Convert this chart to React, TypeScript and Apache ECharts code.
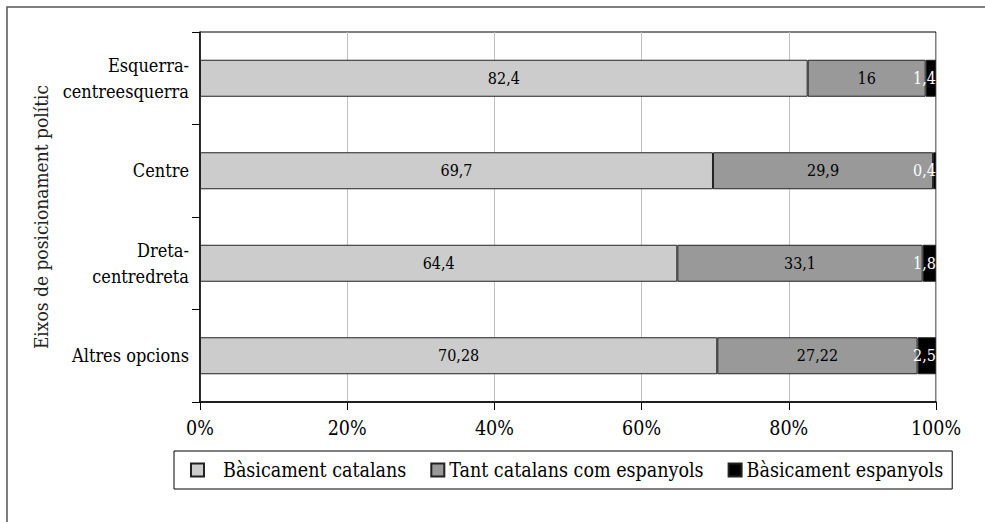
import React, { useEffect, useRef } from "react";
import * as echarts from "echarts";

const categories = ["Esquerra-\ncentreesquerra", "Centre", "Dreta-\ncentredreta", "Altres opcions"];
const seriesNames = ["Bàsicament catalans", "Tant catalans com espanyols", "Bàsicament espanyols"];
const basicamentCatalans = [82.4, 69.7, 64.4, 70.28];
const tantCatalansComEspanyols = [16, 29.9, 33.1, 27.22];
const basicamentEspanyols = [1.4, 0.4, 1.8, 2.5];
const xTicks = [0, 20, 40, 60, 80, 100];
const yAxisTitle = "Eixos de posicionament polític";

const FONT = "DejaVu Serif Condensed";

export default function App() {
  const ref = useRef<HTMLDivElement>(null);
  useEffect(() => {
    if (!ref.current) return;
    const chart = echarts.init(ref.current, null, { renderer: "svg" });
    const raw = [basicamentCatalans, tantCatalansComEspanyols, basicamentEspanyols];
    const totals = categories.map((_, i) => raw.reduce((s, arr) => s + arr[i], 0));
    const colors = ["#cccccc", "#999999", "#000000"];
    const fmt = (v: number) => String(v).replace(".", ",");
    const series = raw.map((arr, si) => ({
      name: seriesNames[si],
      type: "bar",
      stack: "total",
      barWidth: 37,
      itemStyle: { color: colors[si], borderColor: "#222", borderWidth: 1 },
      label: {
        show: true,
        position: si === 2 ? "insideRight" : "inside",
        distance: 0,
        color: si === 2 ? "#ffffff" : "#000000",
        fontFamily: FONT,
        fontSize: 16,
        formatter: (p: any) => fmt(arr[p.dataIndex]),
      },
      emphasis: { disabled: true },
      data: arr.map((v, i) => (v / totals[i]) * 100),
    }));
    chart.setOption({
      animation: false,
      textStyle: { fontFamily: FONT },
      graphic: [
        {
          type: "rect",
          shape: { x: 7, y: 7, width: 1100, height: 700 },
          style: { fill: "none", stroke: "#555", lineWidth: 1.5 },
          silent: true,
        },
      ],
      grid: {
        left: 200,
        top: 32,
        right: 49,
        bottom: 120,
        show: true,
        borderColor: "#000",
        borderWidth: 1,
        containLabel: false,
        outerBoundsMode: "none",
      },
      legend: {
        left: 174,
        top: 451,
        orient: "horizontal",
        padding: [9, 9, 9, 16],
        borderColor: "#000",
        borderWidth: 1,
        itemWidth: 13,
        itemHeight: 13,
        itemGap: 24,
        icon: "rect",
        textStyle: { fontFamily: FONT, fontSize: 19.5, color: "#000" },
        data: [
          { name: seriesNames[0], textStyle: { fontFamily: FONT, fontSize: 19.5, color: "#000", padding: [0, 0, 0, 14] } },
          { name: seriesNames[1] },
          { name: seriesNames[2] },
        ],
        selectedMode: false,
      },
      xAxis: {
        type: "value",
        min: 0,
        max: 100,
        interval: 20,
        axisLine: { show: true, lineStyle: { color: "#000", width: 1.5 } },
        axisTick: { show: true, length: 8, lineStyle: { color: "#000", width: 1 } },
        axisLabel: {
          margin: 16,
          fontFamily: FONT,
          fontSize: 19.5,
          color: "#000",
          formatter: (v: number) => (xTicks.includes(v) ? `${v}%` : ""),
        },
        splitLine: { show: true, lineStyle: { color: "#c0c0c0", width: 1 } },
      },
      yAxis: {
        type: "category",
        data: categories,
        inverse: true,
        name: yAxisTitle,
        nameLocation: "middle",
        nameGap: 150,
        nameTextStyle: { fontFamily: FONT, fontSize: 19, color: "#222" },
        axisLine: { show: true, lineStyle: { color: "#000", width: 1.5 } },
        axisTick: { show: true, length: 8, lineStyle: { color: "#000", width: 1 } },
        axisLabel: {
          margin: 11,
          fontFamily: FONT,
          fontSize: 18,
          lineHeight: 26,
          color: "#000",
          align: "right",
        },
        splitLine: { show: false },
      },
      series,
    });
    return () => chart.dispose();
  }, []);
  return (
    <div
      ref={ref}
      style={{ position: "absolute", left: 0, top: 0, width: 985, height: 522, background: "#fff" }}
    />
  );
}
